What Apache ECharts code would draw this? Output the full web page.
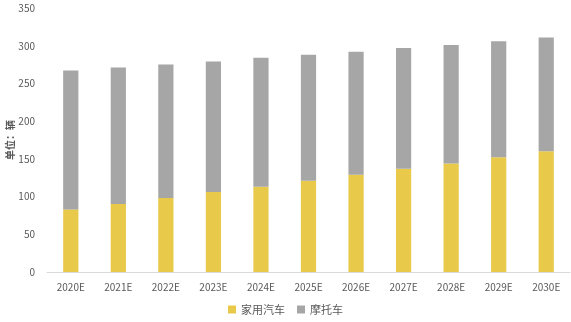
<!DOCTYPE html>
<html>
<head>
<meta charset="utf-8">
<script src="https://cdn.jsdelivr.net/npm/echarts@6/dist/echarts.min.js"></script>
<style>
  html, body { margin: 0; padding: 0; background: #fff; }
  #chart { width: 571px; height: 322px; }
</style>
</head>
<body>
<div id="chart"></div>
<script>
// Years on the category axis
const years = ['2020E', '2021E', '2022E', '2023E', '2024E', '2025E', '2026E', '2027E', '2028E', '2029E', '2030E'];
// Stacked series values (unit: 辆)
const carValues = [83, 90, 98, 106, 113, 121, 129, 137, 144, 152, 160];
const motoValues = [184, 181, 177, 173, 171, 167, 163, 160, 157, 154, 151];
// Y axis range
const yMin = 0;
const yMax = 350;
const yStep = 50;

const font = '"Noto Sans CJK SC", "Noto Sans", sans-serif';
const chart = echarts.init(document.getElementById('chart'), null, { renderer: 'canvas' });

chart.setOption({
  animation: false,
  backgroundColor: '#ffffff',
  textStyle: { fontFamily: font },
  grid: { left: 47, right: 1, top: 8, bottom: 50, containLabel: false, outerBoundsMode: 'none' },
  legend: {
    bottom: 2,
    left: 'center',
    itemWidth: 8,
    itemHeight: 8,
    itemGap: 12,
    icon: 'rect',
    textStyle: { color: '#595959', fontSize: 11, fontFamily: font },
    data: ['家用汽车', '摩托车']
  },
  xAxis: {
    type: 'category',
    data: years,
    axisLine: { lineStyle: { color: '#D9D9D9', width: 1 } },
    axisTick: { show: false },
    axisLabel: { color: '#595959', fontSize: 10, margin: 10, fontFamily: font }
  },
  yAxis: {
    type: 'value',
    min: yMin,
    max: yMax,
    interval: yStep,
    name: '单位：辆',
    nameLocation: 'middle',
    nameGap: 32,
    nameMoveOverlap: false,
    nameRotate: 90,
    nameTextStyle: { color: '#595959', fontSize: 10, fontWeight: 'bold', fontFamily: font },
    axisLine: { show: false },
    axisTick: { show: false },
    splitLine: { show: false },
    axisLabel: { color: '#595959', fontSize: 10, margin: 12, fontFamily: font }
  },
  series: [
    {
      name: '家用汽车',
      type: 'bar',
      stack: 'total',
      barWidth: '32%',
      itemStyle: { color: '#E8C94A' },
      data: carValues
    },
    {
      name: '摩托车',
      type: 'bar',
      stack: 'total',
      barWidth: '32%',
      itemStyle: { color: '#A6A6A6' },
      data: motoValues
    }
  ]
});
</script>
</body>
</html>
